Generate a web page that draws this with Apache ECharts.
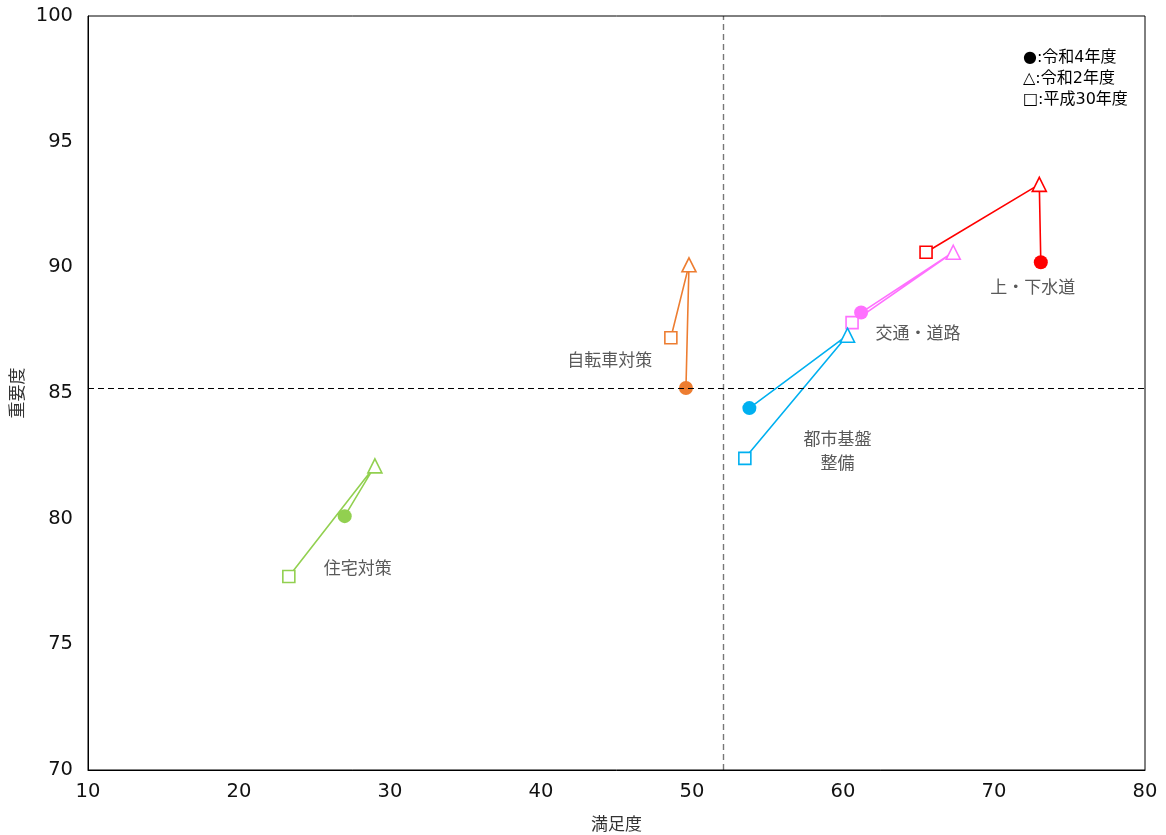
<!DOCTYPE html>
<html><head><meta charset="utf-8">
<script src="https://cdn.jsdelivr.net/npm/echarts@6/dist/echarts.min.js"></script>
<style>html,body{margin:0;padding:0;background:#fff}#c{width:1166px;height:835px}</style>
</head><body><div id="c"></div>
<script>
// Data: [満足度, 重要度] for 平成30年度 → 令和2年度 → 令和4年度
const names = ['上・下水道', '交通・道路', '都市基盤\n整備', '自転車対策', '住宅対策'];
const h30 = [[65.5, 90.6], [60.6, 87.8], [53.5, 82.4], [48.6, 87.2], [23.3, 77.7]];
const r2  = [[73.0, 93.3], [67.3, 90.6], [60.3, 87.3], [49.8, 90.1], [29.0, 82.1]];
const r4  = [[73.1, 90.2], [61.2, 88.2], [53.8, 84.4], [49.6, 85.2], [27.0, 80.1]];
const avgX = 52.05;
const avgY = 85.2;
const xTicks = [10, 20, 30, 40, 50, 60, 70, 80];
const yTicks = [70, 75, 80, 85, 90, 95, 100];
const legendLines = ['●:令和4年度', '△:令和2年度', '□:平成30年度'];

// styles
const colors = ['#FF0000', '#FF70FF', '#00B0F0', '#ED7D31', '#92D050'];
// label anchor: index of point (0=h30,1=r2,2=r4) and pixel offset
const labelStyle = [
  {pt: 2, offset: [-8, 24]},
  {pt: 2, offset: [57, 20]},
  {pt: 2, offset: [88, 42]},
  {pt: 0, offset: [-61, 22]},
  {pt: 2, offset: [13, 51]}
];
const FONT = '"Noto Sans CJK JP", "Noto Sans", sans-serif';
const NUMFONT = '"DejaVu Sans", "Noto Sans CJK JP", sans-serif';

const chart = echarts.init(document.getElementById('c'));
const series = names.map((n, i) => {
  const pts = [h30[i], r2[i], r4[i]];
  const syms = ['rect', 'triangle', 'circle'];
  const sizes = [12, 14, 14];
  return {
    type: 'line', name: n, z: 3,
    lineStyle: {color: colors[i], width: 1.6},
    itemStyle: {color: colors[i]},
    data: pts.map((p, k) => {
      const item = {
        value: p, symbol: syms[k], symbolSize: sizes[k],
        itemStyle: k < 2 ? {color: '#fff', borderColor: colors[i], borderWidth: 1.6} : {color: colors[i]},
        label: {show: false}
      };
      if (labelStyle[i].pt === k) {
        item.label = {
          show: true, formatter: n, position: 'inside', offset: labelStyle[i].offset,
          color: '#595959', fontSize: 17, fontFamily: FONT, lineHeight: 24, align: 'center'
        };
      }
      return item;
    }),
    animation: false
  };
});
series.push({
  type: 'line', data: [], silent: true,
  markLine: {
    symbol: 'none', silent: true, animation: false, label: {show: false},
    data: [
      {xAxis: avgX, lineStyle: {color: '#777', type: [6, 4], width: 1.4}},
      {yAxis: avgY, lineStyle: {color: '#000', type: [6, 4], width: 1}}
    ]
  }
});

chart.setOption({
  animation: false,
  grid: {left: 88, top: 16, right: 21, bottom: 65, containLabel: false, outerBoundsMode: 'none'},
  xAxis: {
    type: 'value', min: xTicks[0], max: xTicks[xTicks.length - 1], interval: 10,
    name: '満足度', nameLocation: 'middle', nameGap: 45,
    nameTextStyle: {color: '#333', fontSize: 17, fontFamily: FONT},
    axisLine: {show: true, lineStyle: {color: '#000', width: 1}},
    axisTick: {show: false}, splitLine: {show: false},
    axisLabel: {color: '#111', fontSize: 19.5, fontFamily: NUMFONT, margin: 12}
  },
  yAxis: {
    type: 'value', min: yTicks[0], max: yTicks[yTicks.length - 1], interval: 5,
    name: '重要度', nameLocation: 'middle', nameGap: 62, nameRotate: 90,
    nameTextStyle: {color: '#333', fontSize: 17, fontFamily: FONT},
    axisLine: {show: true, lineStyle: {color: '#000', width: 1}},
    axisTick: {show: false}, splitLine: {show: false},
    axisLabel: {color: '#111', fontSize: 19.5, fontFamily: NUMFONT, margin: 15}
  },
  graphic: [
    {type: 'rect', shape: {x: 88, y: 16, width: 1057, height: 754}, style: {fill: 'none', stroke: '#000', lineWidth: 1}, z: 10, silent: true},
    ...legendLines.map((t, i) => ({
      type: 'text', left: 1023, top: 50 + i * 21, z: 10,
      style: {text: t, fill: '#000', fontSize: 16, fontFamily: NUMFONT}
    }))
  ],
  series: series
});
</script></body></html>
